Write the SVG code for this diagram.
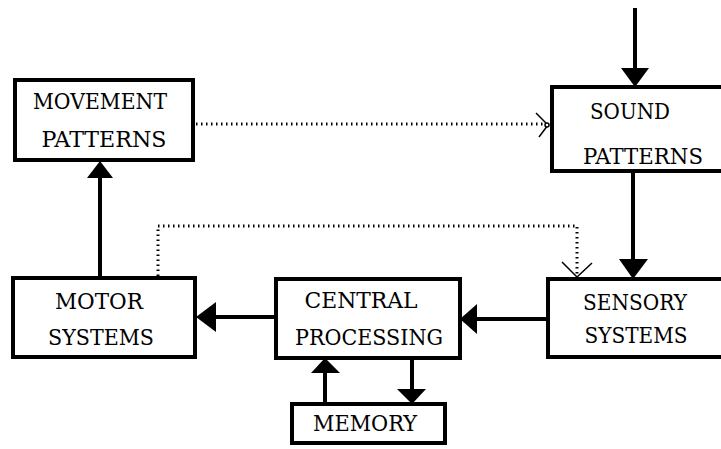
<svg xmlns="http://www.w3.org/2000/svg" width="721" height="449" viewBox="0 0 721 449">
<style>
.box{fill:#fff;stroke:#000;stroke-width:4}
.t{font-family:"DejaVu Serif","Liberation Serif",serif;font-size:23px;fill:#000;text-anchor:middle}
.ln{stroke:#000;stroke-width:4;fill:none}
.dot{stroke:#000;stroke-width:3;fill:none;stroke-dasharray:1.5 3.5}
.open{stroke:#000;stroke-width:1.5;fill:none}
.head{fill:#000}
</style>
<rect width="721" height="449" fill="#fff"/>
<g id="connectors">
  <line class="ln" x1="635" y1="8" x2="635" y2="72"/>
  <polygon class="head" points="621,68 649,68 635,87"/>
  <line class="ln" x1="633" y1="171" x2="633" y2="262"/>
  <polygon class="head" points="619,259 648,259 633,279"/>
  <line class="ln" x1="548" y1="319" x2="474" y2="319"/>
  <polygon class="head" points="477,304 477,334 460,319"/>
  <line class="ln" x1="276" y1="317" x2="212" y2="317"/>
  <polygon class="head" points="216,302 216,332 196,317"/>
  <line class="ln" x1="100" y1="278" x2="100" y2="174"/>
  <polygon class="head" points="87,178 113,178 100,161"/>
  <line class="ln" x1="325" y1="404" x2="325" y2="372"/>
  <polygon class="head" points="311,373 340,373 325,358"/>
  <line class="ln" x1="412" y1="358" x2="412" y2="392"/>
  <polygon class="head" points="397,389 426,389 412,404"/>
  <line class="dot" x1="196" y1="124" x2="546" y2="124"/>
  <path class="open" d="M536,113 L548,125 L539,137"/>
  <circle cx="547" cy="125" r="2" fill="#fff" stroke="#000" stroke-width="1.5"/>
  <polyline class="dot" points="158,276 158,226 577,226 577,275"/>
  <path class="open" d="M562,262 L577,277 L592,263"/>
</g>
<g id="movement-patterns">
  <rect class="box" x="15" y="80" width="178" height="80"/>
  <text class="t" x="100" y="109" textLength="134" lengthAdjust="spacingAndGlyphs">MOVEMENT</text>
  <text class="t" x="104" y="147" textLength="125" lengthAdjust="spacingAndGlyphs">PATTERNS</text>
</g>
<g id="sound-patterns">
  <rect class="box" x="552" y="87" width="172" height="84"/>
  <text class="t" x="630" y="119" textLength="80" lengthAdjust="spacingAndGlyphs">SOUND</text>
  <text class="t" x="643" y="164" textLength="120" lengthAdjust="spacingAndGlyphs">PATTERNS</text>
</g>
<g id="motor-systems">
  <rect class="box" x="13" y="278" width="182" height="79"/>
  <text class="t" x="99" y="309" textLength="88" lengthAdjust="spacingAndGlyphs">MOTOR</text>
  <text class="t" x="101" y="345" textLength="106" lengthAdjust="spacingAndGlyphs">SYSTEMS</text>
</g>
<g id="central-processing">
  <rect class="box" x="276" y="279" width="184" height="79"/>
  <text class="t" x="361" y="308" textLength="113" lengthAdjust="spacingAndGlyphs">CENTRAL</text>
  <text class="t" x="369" y="345" textLength="148" lengthAdjust="spacingAndGlyphs">PROCESSING</text>
</g>
<g id="sensory-systems">
  <rect class="box" x="548" y="279" width="176" height="78"/>
  <text class="t" x="635" y="310" textLength="104" lengthAdjust="spacingAndGlyphs">SENSORY</text>
  <text class="t" x="636" y="343" textLength="103" lengthAdjust="spacingAndGlyphs">SYSTEMS</text>
</g>
<g id="memory">
  <rect class="box" x="292" y="404" width="153" height="39"/>
  <text class="t" x="365" y="431" textLength="104" lengthAdjust="spacingAndGlyphs">MEMORY</text>
</g>
</svg>
